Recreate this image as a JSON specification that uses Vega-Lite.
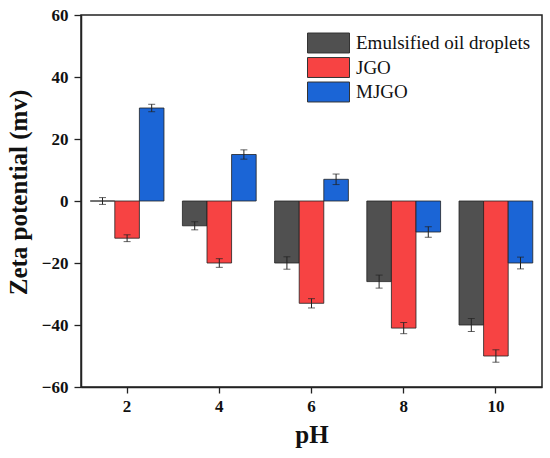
{
  "$schema": "https://vega.github.io/schema/vega-lite/v6.json",
  "width": 461,
  "height": 372,
  "autosize": "none",
  "padding": {"left": 81, "top": 15, "right": 8, "bottom": 71},
  "background": "white",
  "config": {
    "font": "Liberation Serif, Times New Roman, serif",
    "view": {"stroke": "#222", "strokeWidth": 1.5},
    "axis": {"domainColor": "#222", "domainWidth": 1.5, "tickColor": "#222", "tickWidth": 1.3, "grid": false,
      "labelFont": "Liberation Serif, Times New Roman, serif", "labelFontWeight": "bold", "labelFontSize": 17, "labelColor": "#111",
      "titleFont": "Liberation Serif, Times New Roman, serif", "titleFontWeight": "bold", "titleFontSize": 25, "titleColor": "#111"},
    "legend": {"labelFont": "Liberation Serif, Times New Roman, serif"}
  },
  "data": {"values": [
    {"pH": "2", "sample": "Emulsified oil droplets", "zeta": 0, "err": 1.1},
    {"pH": "2", "sample": "JGO", "zeta": -12, "err": 1.1},
    {"pH": "2", "sample": "MJGO", "zeta": 30, "err": 1.2},
    {"pH": "4", "sample": "Emulsified oil droplets", "zeta": -8, "err": 1.3},
    {"pH": "4", "sample": "JGO", "zeta": -20, "err": 1.4},
    {"pH": "4", "sample": "MJGO", "zeta": 15, "err": 1.5},
    {"pH": "6", "sample": "Emulsified oil droplets", "zeta": -20, "err": 2.0},
    {"pH": "6", "sample": "JGO", "zeta": -33, "err": 1.5},
    {"pH": "6", "sample": "MJGO", "zeta": 7, "err": 1.7},
    {"pH": "8", "sample": "Emulsified oil droplets", "zeta": -26, "err": 2.1},
    {"pH": "8", "sample": "JGO", "zeta": -41, "err": 1.8},
    {"pH": "8", "sample": "MJGO", "zeta": -10, "err": 1.7},
    {"pH": "10", "sample": "Emulsified oil droplets", "zeta": -40, "err": 2.1},
    {"pH": "10", "sample": "JGO", "zeta": -50, "err": 2.0},
    {"pH": "10", "sample": "MJGO", "zeta": -20, "err": 1.9}
  ]},
  "encoding": {
    "x": {"field": "pH", "type": "ordinal",
      "scale": {"domain": ["2", "4", "6", "8", "10"], "paddingInner": 0.2, "paddingOuter": 0.1},
      "axis": {"title": "pH", "labelAngle": 0, "tickSize": 6, "labelPadding": 5, "titlePadding": 8, "domain": true}},
    "xOffset": {"field": "sample", "type": "nominal",
      "scale": {"domain": ["Emulsified oil droplets", "JGO", "MJGO"], "paddingInner": 0, "paddingOuter": 0}}
  },
  "layer": [
    {
      "mark": {"type": "bar", "stroke": "#222", "strokeWidth": 0.8},
      "encoding": {
        "y": {"field": "zeta", "type": "quantitative", "title": "Zeta potential (mv)",
          "scale": {"domain": [-60, 60], "nice": false},
          "axis": {"title": "Zeta potential (mv)",
            "values": [-60, -50, -40, -30, -20, -10, 0, 10, 20, 30, 40, 50, 60],
            "labelExpr": "datum.value % 20 === 0 ? datum.label : ''",
            "tickSize": {"condition": {"test": "datum.value % 20 !== 0", "value": 3}, "value": 7},
            "labelPadding": 6, "titlePadding": 10, "titleY": 177}},
        "color": {"field": "sample", "type": "nominal",
          "scale": {"domain": ["Emulsified oil droplets", "JGO", "MJGO"], "range": ["#505050", "#f74343", "#1b65d6"]},
          "legend": {"title": null, "orient": "none", "legendX": 236.5, "legendY": 17,
            "symbolType": "M-2,-0.95H2V0.95H-2Z", "symbolSize": 441, "symbolStrokeColor": "#333",
            "symbolStrokeWidth": 1, "symbolOpacity": 1, "labelFont": "Liberation Serif, Times New Roman, serif", "labelFontSize": 19,
            "labelColor": "#111", "labelOffset": 16.5, "rowPadding": 0.5, "labelLimit": 300}}
      }
    },
    {
      "mark": {"type": "errorbar", "color": "#222", "ticks": {"size": 7, "color": "#222"}, "thickness": 1},
      "encoding": {
        "y": {"field": "zeta", "type": "quantitative", "title": "Zeta potential (mv)"},
        "yError": {"field": "err"}
      }
    },
    {
      "mark": {"type": "rule", "color": "#222", "strokeWidth": 1.3},
      "encoding": {"y": {"datum": 0}}
    }
  ]
}
